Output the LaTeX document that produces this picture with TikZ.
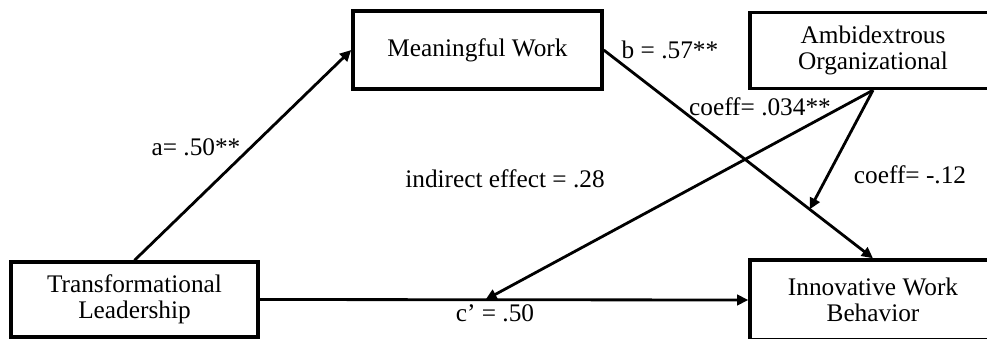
\documentclass[tikz,border=0pt]{standalone}
\usepackage{fontspec}
\setmainfont{Liberation Serif}
\usepackage{tikz}
\usetikzlibrary{arrows.meta, positioning}

\begin{document}
\begin{tikzpicture}[
  x=0.025cm, y=0.025cm,
  box/.style={draw, line width=2.4pt, minimum height=1.9cm, align=center, inner sep=0pt, font=\fontsize{18}{18.5}\selectfont},
  arrow/.style={-{Triangle[length=8pt, width=7.5pt]}, line width=2pt},
  lbl/.style={font=\fontsize{18}{18.5}\selectfont, inner sep=0pt}
]
\useasboundingbox (0,0) rectangle (987,338);
\clip (0,0) rectangle (987,338);

% Variables
\node[box, minimum width=6.175cm, minimum height=1.875cm] (tl) at (134.5, 38.5) {Transformational\\Leadership};
\node[box, minimum width=6.225cm, minimum height=1.95cm] (mw) at (477.5, 288) {Meaningful Work};
\node[box, minimum width=6.15cm] (ao) at (873, 287.5) {Ambidextrous\\Organizational};
\node[box, minimum width=6.15cm, minimum height=2cm] (iwb) at (873, 38) {Innovative Work\\Behavior};

% Paths
\draw[arrow] (tl.north) -- (mw.west);
\draw[arrow] (mw.east) -- coordinate[pos=0.765] (bmid) (iwb.north);
\draw[arrow] (tl.east) -- coordinate[pos=0.462] (cmid) (iwb.west);

% Moderator
\draw[arrow] (ao.south) -- (cmid);
\draw[arrow] (ao.south) -- (bmid);

% Coefficients
\node[lbl] (a) at (196, 191) {a= .50**};
\node[lbl] (b) at (670, 288) {b = .57**};
\node[lbl] (cf1) at (760, 231) {coeff= .034**};
\node[lbl] (ind) at (505, 159) {indirect effect = .28};
\node[lbl] (cf2) at (910, 163) {coeff= -.12};
\node[lbl] (c) at (495, 25) {c’ = .50};

\end{tikzpicture}
\end{document}
